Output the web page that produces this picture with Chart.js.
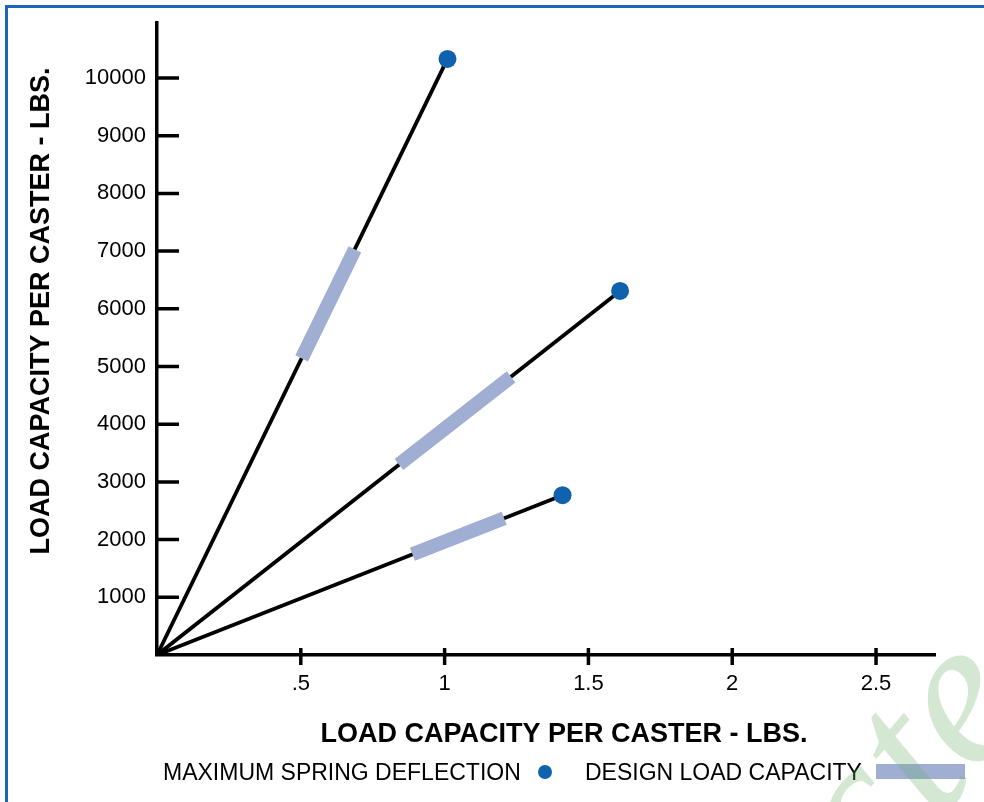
<!DOCTYPE html>
<html>
<head>
<meta charset="utf-8">
<script src="https://cdn.jsdelivr.net/npm/chart.js@4.4.1/dist/chart.umd.min.js"></script>
<style>
html,body{margin:0;padding:0;background:#fff;overflow:hidden;width:984px;height:802px;}
#frame{position:absolute;left:5px;top:5px;width:1100px;height:900px;border-top:3px solid #1b67b5;border-left:3px solid #1b67b5;}
#wrap{position:absolute;left:0;top:0;width:984px;height:802px;}
</style>
</head>
<body>
<div id="frame"></div>
<div id="wrap"><canvas id="c"></canvas></div>
<script>
// ---- data ----
const seriesNames = ['MAXIMUM SPRING DEFLECTION', 'DESIGN LOAD CAPACITY'];
const axisTitle = 'LOAD CAPACITY PER CASTER - LBS.';
const watermarkText = 'ste';
const yTickValues = [1000, 2000, 3000, 4000, 5000, 6000, 7000, 8000, 9000, 10000];
const yTickLabels = ['1000', '2000', '3000', '4000', '5000', '6000', '7000', '8000', '9000', '10000'];
const xTickValues = [0.5, 1, 1.5, 2, 2.5];
const xTickLabels = ['.5', '1', '1.5', '2', '2.5'];
// spring lines start at origin and end at max deflection point
const originX = 0;
const originY = 0;
const maxDeflectionX = [1.01, 1.61, 1.41];
const maxDeflectionY = [10330, 6310, 2770];
// design load capacity segments along each line
const designStartX = [0.503, 0.841, 0.888];
const designStartY = [5140, 3300, 1745];
const designEndX = [0.688, 1.231, 1.207];
const designEndY = [7030, 4820, 2370];

const FONT = '"Liberation Sans", Arial, Helvetica, sans-serif';
const LINE_COLOR = '#000000';
const DESIGN_COLOR = '#a0aed4';
const DOT_COLOR = '#1062ae';

Chart.defaults.font.family = FONT;
Chart.defaults.color = '#000';

const datasets = [];
maxDeflectionX.forEach((mx, i) => {
  datasets.push({
    type: 'line',
    label: 'line' + (i + 1),
    data: [{x: originX, y: originY}, {x: mx, y: maxDeflectionY[i]}],
    borderColor: LINE_COLOR,
    borderWidth: 3.8,
    pointRadius: 0,
    fill: false,
    tension: 0,
    order: 3
  });
});
designStartX.forEach((sx, i) => {
  datasets.push({
    type: 'line',
    label: seriesNames[1],
    data: [{x: sx, y: designStartY[i]}, {x: designEndX[i], y: designEndY[i]}],
    borderColor: DESIGN_COLOR,
    borderWidth: 14,
    borderCapStyle: 'butt',
    pointRadius: 0,
    fill: false,
    tension: 0,
    order: 2
  });
});
datasets.push({
  type: 'scatter',
  label: seriesNames[0],
  data: maxDeflectionX.map((x, i) => ({x: x, y: maxDeflectionY[i]})),
  backgroundColor: DOT_COLOR,
  borderWidth: 0,
  pointRadius: 9,
  pointHoverRadius: 9,
  order: 1
});

const tickMarks = {
  id: 'tickMarks',
  afterDatasetsDraw(chart) {
    const ctx = chart.ctx, a = chart.chartArea;
    const xs = chart.scales.x, ys = chart.scales.y;
    ctx.save();
    ctx.strokeStyle = '#000';
    ctx.lineWidth = 3.5;
    ctx.beginPath();
    ys.ticks.forEach(t => {
      const py = ys.getPixelForValue(t.value);
      ctx.moveTo(a.left, py);
      ctx.lineTo(a.left + 22, py);
    });
    xs.ticks.forEach(t => {
      const px = xs.getPixelForValue(t.value);
      ctx.moveTo(px, a.bottom - 7);
      ctx.lineTo(px, a.bottom + 10);
    });
    ctx.stroke();
    ctx.restore();
  }
};

const texts = {
  id: 'texts',
  afterDraw(chart) {
    const ctx = chart.ctx;
    ctx.save();
    ctx.fillStyle = '#000';
    // y-axis title
    ctx.save();
    ctx.translate(49, 311);
    ctx.rotate(-Math.PI / 2);
    ctx.font = 'bold 27px ' + FONT;
    ctx.textAlign = 'center';
    ctx.textBaseline = 'alphabetic';
    ctx.fillText(axisTitle, 0, 0);
    ctx.restore();
    // x-axis title
    ctx.font = 'bold 27px ' + FONT;
    ctx.textAlign = 'center';
    ctx.textBaseline = 'alphabetic';
    ctx.fillText(axisTitle, 564, 742);
    // legend
    ctx.font = '23px ' + FONT;
    ctx.textAlign = 'left';
    ctx.fillText(seriesNames[0], 163, 780);
    ctx.fillStyle = DOT_COLOR;
    ctx.beginPath();
    ctx.arc(545, 772, 7, 0, Math.PI * 2);
    ctx.fill();
    ctx.fillStyle = '#000';
    ctx.fillText(seriesNames[1], 585, 780);
    ctx.fillStyle = DESIGN_COLOR;
    ctx.fillRect(876, 764, 89, 15);
    // watermark
    ctx.save();
    ctx.translate(885, 885);
    ctx.rotate(-50 * Math.PI / 180);
    ctx.font = 'italic 210px "Liberation Serif", "DejaVu Serif", serif';
    ctx.fillStyle = 'rgba(110,175,110,0.3)';
    ctx.textAlign = 'left';
    ctx.textBaseline = 'alphabetic';
    ctx.fillText(watermarkText, 0, 0);
    ctx.restore();
    ctx.restore();
  }
};

new Chart(document.getElementById('c'), {
  type: 'scatter',
  data: {datasets: datasets},
  options: {
    responsive: true,
    maintainAspectRatio: false,
    animation: false,
    events: [],
    layout: {padding: {left: 0, top: 23, right: 49, bottom: 0}},
    plugins: {legend: {display: false}, tooltip: {enabled: false}},
    scales: {
      x: {
        type: 'linear',
        min: 0,
        max: 2.705,
        afterBuildTicks: s => { s.ticks = xTickValues.map(v => ({value: v})); },
        afterFit: s => { s.height = 147; },
        ticks: {
          callback: (v, i) => xTickLabels[i],
          font: {size: 22},
          color: '#000',
          padding: 8,
          maxRotation: 0,
          autoSkip: false
        },
        grid: {display: false},
        border: {display: true, color: '#000', width: 3.5}
      },
      y: {
        type: 'linear',
        min: 0,
        max: 10953,
        afterBuildTicks: s => { s.ticks = yTickValues.map(v => ({value: v})); },
        afterFit: s => { s.width = 157; },
        ticks: {
          callback: (v, i) => yTickLabels[i],
          font: {size: 22},
          color: '#000',
          padding: 3,
          autoSkip: false
        },
        grid: {display: false},
        border: {display: true, color: '#000', width: 3.5}
      }
    }
  },
  plugins: [tickMarks, texts]
});
</script>
</body>
</html>
